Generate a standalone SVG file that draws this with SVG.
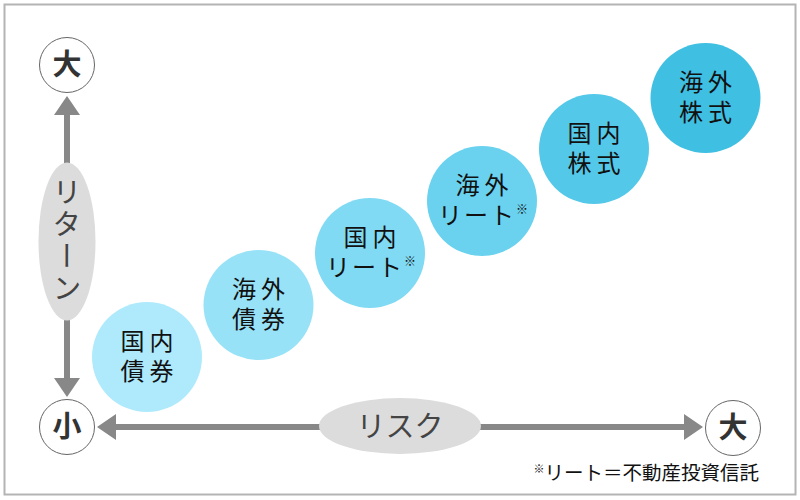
<svg xmlns="http://www.w3.org/2000/svg" width="800" height="500" viewBox="0 0 800 500">
<style>
.frame{fill:#fff;stroke:#b4b4b4;stroke-width:2}
.conn{stroke:#888;stroke-width:6;fill:none}
.oval{fill:#dcdcdc}
.axislbl{font-family:"Noto Sans CJK JP","Noto Sans",sans-serif;font-size:29px;fill:#444}
.end{fill:#fff;stroke:#666;stroke-width:1}
.endlbl{font-family:"Noto Sans CJK JP","Noto Sans",sans-serif;font-size:29px;font-weight:bold;fill:#333;text-anchor:middle}
.lbl{font-family:"Noto Sans CJK JP","Noto Sans",sans-serif;font-size:24px;fill:#111;text-anchor:middle;letter-spacing:5px}
.note{font-size:12px;letter-spacing:0}
.foot{font-family:"Noto Sans CJK JP","Noto Sans",sans-serif;font-size:19.5px;fill:#111;text-anchor:end}
</style>
<defs>
<marker id="ah" markerUnits="userSpaceOnUse" viewBox="0 0 19 26" markerWidth="19" markerHeight="26" refX="0" refY="13" orient="auto">
<path d="M0,0 L19,13 L0,26 Z" fill="#888"/>
</marker>
</defs>
<rect class="frame" x="4.5" y="4.5" width="791" height="490"/>
<g id="connectors">
<line class="conn" x1="67" y1="165" x2="67" y2="115" marker-end="url(#ah)"/>
<line class="conn" x1="67" y1="318" x2="67" y2="378" marker-end="url(#ah)"/>
<line class="conn" x1="321" y1="427" x2="116" y2="427" marker-end="url(#ah)"/>
<line class="conn" x1="479" y1="427" x2="684" y2="427" marker-end="url(#ah)"/>
</g>
<g id="return-label">
<ellipse class="oval" cx="67" cy="241.5" rx="28.5" ry="79"/>
<text class="axislbl" x="67" y="241" style="writing-mode:vertical-rl;text-anchor:middle;letter-spacing:3px">リターン</text>
</g>
<g id="risk-label">
<ellipse class="oval" cx="400" cy="426" rx="81" ry="28"/>
<text class="axislbl" x="400" y="437" text-anchor="middle">リスク</text>
</g>
<g id="return-high">
<circle class="end" cx="67" cy="65" r="27.5"/>
<text class="endlbl" x="67" y="75">大</text>
</g>
<g id="low">
<circle class="end" cx="67" cy="427" r="27.5"/>
<text class="endlbl" x="67" y="437">小</text>
</g>
<g id="risk-high">
<circle class="end" cx="733" cy="428" r="27.5"/>
<text class="endlbl" x="733" y="438">大</text>
</g>
<g id="domestic-bonds">
<circle cx="147" cy="357" r="55" fill="#aeeafc"/>
<text class="lbl" x="149.5" y="350">国内</text>
<text class="lbl" x="149.5" y="380">債券</text>
</g>
<g id="foreign-bonds">
<circle cx="258.5" cy="305" r="55" fill="#98e2f8"/>
<text class="lbl" x="261" y="298">海外</text>
<text class="lbl" x="261" y="328">債券</text>
</g>
<g id="domestic-reit">
<circle cx="370" cy="253" r="55" fill="#80daf3"/>
<text class="lbl" x="372.5" y="246">国内</text>
<text class="lbl" x="371" y="276" style="letter-spacing:2px">リート<tspan class="note" dy="-10">※</tspan></text>
</g>
<g id="foreign-reit">
<circle cx="482" cy="201" r="55" fill="#6ad2ef"/>
<text class="lbl" x="484.5" y="194">海外</text>
<text class="lbl" x="483" y="224" style="letter-spacing:2px">リート<tspan class="note" dy="-10">※</tspan></text>
</g>
<g id="domestic-stocks">
<circle cx="594" cy="149" r="55" fill="#54c8e8"/>
<text class="lbl" x="596.5" y="142">国内</text>
<text class="lbl" x="596.5" y="172">株式</text>
</g>
<g id="foreign-stocks">
<circle cx="705.5" cy="98" r="55" fill="#3fbfe2"/>
<text class="lbl" x="708" y="91">海外</text>
<text class="lbl" x="708" y="121">株式</text>
</g>
<text class="foot" x="759" y="480"><tspan font-size="11" dy="-7">※</tspan><tspan dy="7">リート＝不動産投資信託</tspan></text>
</svg>
